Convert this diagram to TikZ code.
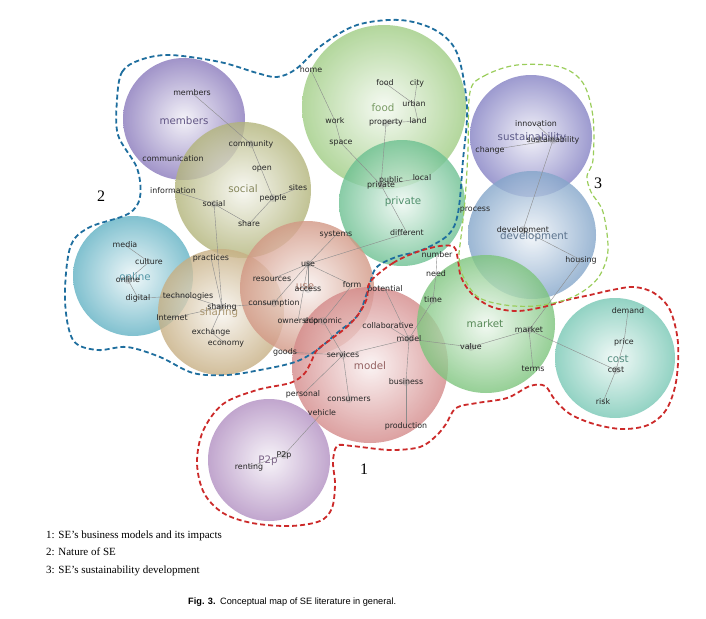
\documentclass[tikz,border=0pt]{standalone}
\usepackage{fontspec}
\setmainfont{Liberation Serif}
\newfontfamily\wordfont{DejaVu Sans}
\newfontfamily\capfont{Liberation Sans}
\pgfdeclarelayer{bubbles}
\pgfdeclarelayer{links}
\pgfsetlayers{bubbles,links,main}
\definecolor{cMem}{HTML}{8A7ABC}
\definecolor{cSoc}{HTML}{B2B47A}
\definecolor{cFood}{HTML}{A0CD84}
\definecolor{cPriv}{HTML}{6CC091}
\definecolor{cSus}{HTML}{8582C4}
\definecolor{cDev}{HTML}{84A6CA}
\definecolor{cOnl}{HTML}{62B2C4}
\definecolor{cShr}{HTML}{C7AF83}
\definecolor{cUse}{HTML}{D29784}
\definecolor{cMod}{HTML}{D48A8A}
\definecolor{cMkt}{HTML}{7CC47C}
\definecolor{cCost}{HTML}{78C8B5}
\definecolor{cPtp}{HTML}{B290C2}
\definecolor{hullBlue}{HTML}{1E6E9E}
\definecolor{hullRed}{HTML}{CC2A2A}
\definecolor{hullGreen}{HTML}{9ACD5A}
\tikzset{
  bubble/.style 2 args={circle, draw=none, inner sep=0pt, minimum size=#1,
    inner color=#2!12!white, outer color=#2, fill opacity=0.8},
  word/.style={font=\wordfont\fontsize{7.9}{8}\selectfont, text=black!85, inner sep=0.5pt},
  ttl/.style={font=\wordfont\fontsize{10.3}{11}\selectfont, text=#1, inner sep=0pt},
  link/.style={draw=black!45, line width=0.4pt},
  nodedot/.style={fill=black!45, fill opacity=0.28},
  hull/.style={line width=1.8pt, dash pattern=on 5pt off 3pt},
  clusternum/.style={font=\fontsize{16}{18}\selectfont, inner sep=0pt},
  legend/.style={font=\fontsize{11}{13}\selectfont, anchor=base west, inner sep=0pt},
}
\begin{document}
\begin{tikzpicture}[x=1pt,y=-1pt]
\useasboundingbox (0,0) rectangle (706,618);

\begin{pgfonlayer}{bubbles}
\fill[white] (0,0) rectangle (706,618);
\node[bubble={122}{cMem}]  (b-members) at (184,119) {};
\node[bubble={136}{cSoc}]  (b-social) at (243,190) {};
\node[bubble={164}{cFood}] (b-food) at (384,107) {};
\node[bubble={126}{cPriv}] (b-private) at (402,203) {};
\node[bubble={122}{cSus}]  (b-sus) at (531,136) {};
\node[bubble={128}{cDev}]  (b-dev) at (532,235) {};
\node[bubble={120}{cOnl}]  (b-online) at (133,276) {};
\node[bubble={126}{cShr}]  (b-sharing) at (221,312) {};
\node[bubble={134}{cUse}]  (b-use) at (307,288) {};
\node[bubble={156}{cMod}]  (b-model) at (370,365) {};
\node[bubble={138}{cMkt}]  (b-market) at (486,324) {};
\node[bubble={120}{cCost}] (b-cost) at (615,358) {};
\node[bubble={122}{cPtp}]  (b-p2p) at (269,460) {};
\end{pgfonlayer}

% cluster titles
\node[ttl=cMem!70!black]  (t-members) at (184,121) {members};
\node[ttl=cSoc!75!black]  (t-social) at (243,189) {social};
\node[ttl=cFood!75!black] (t-food) at (383,108) {food};
\node[ttl=cPriv!75!black] (t-private) at (403,202) {private};
\node[ttl=cSus!70!black]  (t-sus) at (532,138) {sustainability};
\node[ttl=cDev!70!black]  (t-dev) at (534,237) {development};
\node[ttl=cOnl!85!black]  (t-online) at (135,277) {online};
\node[ttl=cShr!85!black]  (t-sharing) at (219,313) {sharing};
\node[ttl=cUse!85!black]  (t-use) at (305,287) {use};
\node[ttl=cMod!70!black]  (t-model) at (370,366) {model};
\node[ttl=cMkt!70!black]  (t-market) at (485,324) {market};
\node[ttl=cCost!70!black] (t-cost) at (618,359) {cost};
\node[ttl=cPtp!70!black]  (t-p2p) at (268,461) {P2p};

% words
\node[word] (w-members) at (192,93) {members};
\node[word] (w-communication) at (173,159) {communication};
\node[word] (w-community) at (251,144) {community};
\node[word] (w-open) at (262,169) {open};
\node[word] (w-sites) at (298,188) {sites};
\node[word] (w-people) at (273,198) {people};
\node[word] (w-information) at (173,191) {information};
\node[word] (w-social) at (214,204) {social};
\node[word] (w-share) at (249,224) {share};
\node[word] (w-home) at (311,70) {home};
\node[word] (w-food) at (385,83) {food};
\node[word] (w-city) at (417,83) {city};
\node[word] (w-urban) at (414,104) {urban};
\node[word] (w-work) at (335,121) {work};
\node[word] (w-property) at (386,123) {property};
\node[word] (w-land) at (418,121) {land};
\node[word] (w-space) at (341,143) {space};
\node[word] (w-public) at (391,180) {public};
\node[word] (w-private) at (381,185) {private};
\node[word] (w-local) at (422,178) {local};
\node[word] (w-different) at (407,233) {different};
\node[word] (w-systems) at (336,235) {systems};
\node[word] (w-innovation) at (536,124) {innovation};
\node[word] (w-sustainability) at (553,140) {sustainability};
\node[word] (w-change) at (490,150) {change};
\node[word] (w-process) at (475,210) {process};
\node[word] (w-development) at (523,230) {development};
\node[word] (w-housing) at (581,260) {housing};
\node[word] (w-media) at (125,245) {media};
\node[word] (w-culture) at (149,262) {culture};
\node[word] (w-online) at (128,280) {online};
\node[word] (w-digital) at (138,298) {digital};
\node[word] (w-practices) at (211,258) {practices};
\node[word] (w-technologies) at (188,296) {technologies};
\node[word] (w-sharing) at (222,307) {sharing};
\node[word] (w-internet) at (172,318) {Internet};
\node[word] (w-exchange) at (211,332) {exchange};
\node[word] (w-economy) at (226,344) {economy};
\node[word] (w-use) at (308,264) {use};
\node[word] (w-resources) at (272,279) {resources};
\node[word] (w-access) at (308,289) {access};
\node[word] (w-consumption) at (274,303) {consumption};
\node[word] (w-ownership) at (298,321) {ownership};
\node[word] (w-economic) at (323,321) {economic};
\node[word] (w-form) at (352,285) {form};
\node[word] (w-goods) at (285,352) {goods};
\node[word] (w-potential) at (385,289) {potential};
\node[word] (w-collaborative) at (388,326) {collaborative};
\node[word] (w-model) at (409,339) {model};
\node[word] (w-services) at (343,355) {services};
\node[word] (w-business) at (406,382) {business};
\node[word] (w-personal) at (303,394) {personal};
\node[word] (w-consumers) at (349,399) {consumers};
\node[word] (w-vehicle) at (322,413) {vehicle};
\node[word] (w-production) at (406,426) {production};
\node[word] (w-number) at (437,255) {number};
\node[word] (w-need) at (436,274) {need};
\node[word] (w-time) at (433,300) {time};
\node[word] (w-market) at (529,330) {market};
\node[word] (w-value) at (471,347) {value};
\node[word] (w-terms) at (533,369) {terms};
\node[word] (w-demand) at (628,311) {demand};
\node[word] (w-price) at (624,342) {price};
\node[word] (w-cost) at (616,370) {cost};
\node[word] (w-risk) at (603,402) {risk};
\node[word] (w-p2p) at (284,455) {P2p};
\node[word] (w-renting) at (249,467) {renting};

\begin{pgfonlayer}{links}
\foreach \a/\b in {members/community, community/people, people/sites, people/share,
  information/social, social/share, social/sharing, practices/sharing,
  home/work, work/space, space/private, food/urban, city/urban, urban/land,
  property/land, property/private, private/local, private/different,
  different/use, systems/use, use/resources, use/access, use/form,
  use/consumption, use/ownership, form/economic, economic/services,
  innovation/sustainability, change/sustainability, sustainability/development,
  development/housing, housing/market, media/culture, culture/online,
  online/digital, digital/technologies, technologies/sharing, internet/sharing,
  sharing/exchange, exchange/economy, sharing/consumption,
  potential/model, collaborative/model, model/services, model/business,
  business/production, model/value, time/model, number/need, need/time,
  services/goods, services/personal, services/consumers, vehicle/p2p,
  renting/p2p, value/market, market/terms, market/cost, demand/price,
  price/cost, cost/risk}
  \draw[link] (w-\a.center) -- (w-\b.center);
\foreach \n in {community, people, social, sharing, use, access, consumption,
  economic, model, services, consumers, market, cost, p2p, online, private,
  property, development, sustainability, time, value, business}
  \fill[nodedot] (w-\n.center) circle (4);
\end{pgfonlayer}

% cluster hulls
\draw[hull, hullBlue] plot[smooth cycle, tension=0.55] coordinates {
  (117,100) (122,72) (140,60) (170,55) (220,62) (257,73) (277,77) (296,69)
  (322,45) (357,25) (400,20) (435,30) (457,53) (467,107) (463,160) (458,213)
  (448,235) (422,250) (396,257) (376,268) (368,290) (358,315) (337,333)
  (317,350) (295,362) (260,370) (227,375) (193,373) (160,357) (127,347)
  (97,350) (73,340) (65,300) (70,248) (88,228) (128,214) (140,197) (137,168)
  (118,135)};
\draw[hull, hullRed] plot[smooth cycle, tension=0.55] coordinates {
  (370,282) (393,263) (417,252) (440,246) (454,247) (458,260) (461,277)
  (472,294) (492,307) (517,311) (543,307) (567,300) (590,295) (612,290)
  (634,287) (654,293) (670,310) (678,343) (676,382) (666,410) (648,425)
  (622,429) (594,424) (570,414) (555,400) (545,386) (530,386) (507,398)
  (477,403) (456,408) (446,424) (436,436) (420,447) (390,450) (352,446)
  (337,446) (333,462) (335,484) (332,508) (320,521) (290,526) (252,523)
  (223,513) (204,493) (197,463) (203,431) (223,404) (257,390) (290,383)
  (304,374) (311,362) (317,350) (330,340) (348,326) (360,312) (367,298)};
\draw[hull, hullGreen, line width=1.2pt] plot[smooth cycle, tension=0.55] coordinates {
  (470,92) (484,76) (517,65) (560,67) (583,83) (593,117) (593,160) (587,176)
  (591,192) (603,212) (608,250) (600,275) (585,290) (565,300) (535,306)
  (505,305) (478,297) (463,276) (459,257) (461,237) (465,200) (468,150)};

\node[clusternum] (n1) at (364,469) {1};
\node[clusternum] (n2) at (101,196) {2};
\node[clusternum] (n3) at (598,183) {3};

\node[legend] (l1) at (46,538) {1: SE’s business models and its impacts};
\node[legend] (l2) at (46,555) {2: Nature of SE};
\node[legend] (l3) at (46,573) {3: SE’s sustainability development};
\node[font=\capfont\fontsize{9.2}{11}\selectfont, anchor=base west, inner sep=0pt] (cap)
  at (188,604) {\textbf{Fig. 3.}\enspace Conceptual map of SE literature in general.};
\end{tikzpicture}
\end{document}
